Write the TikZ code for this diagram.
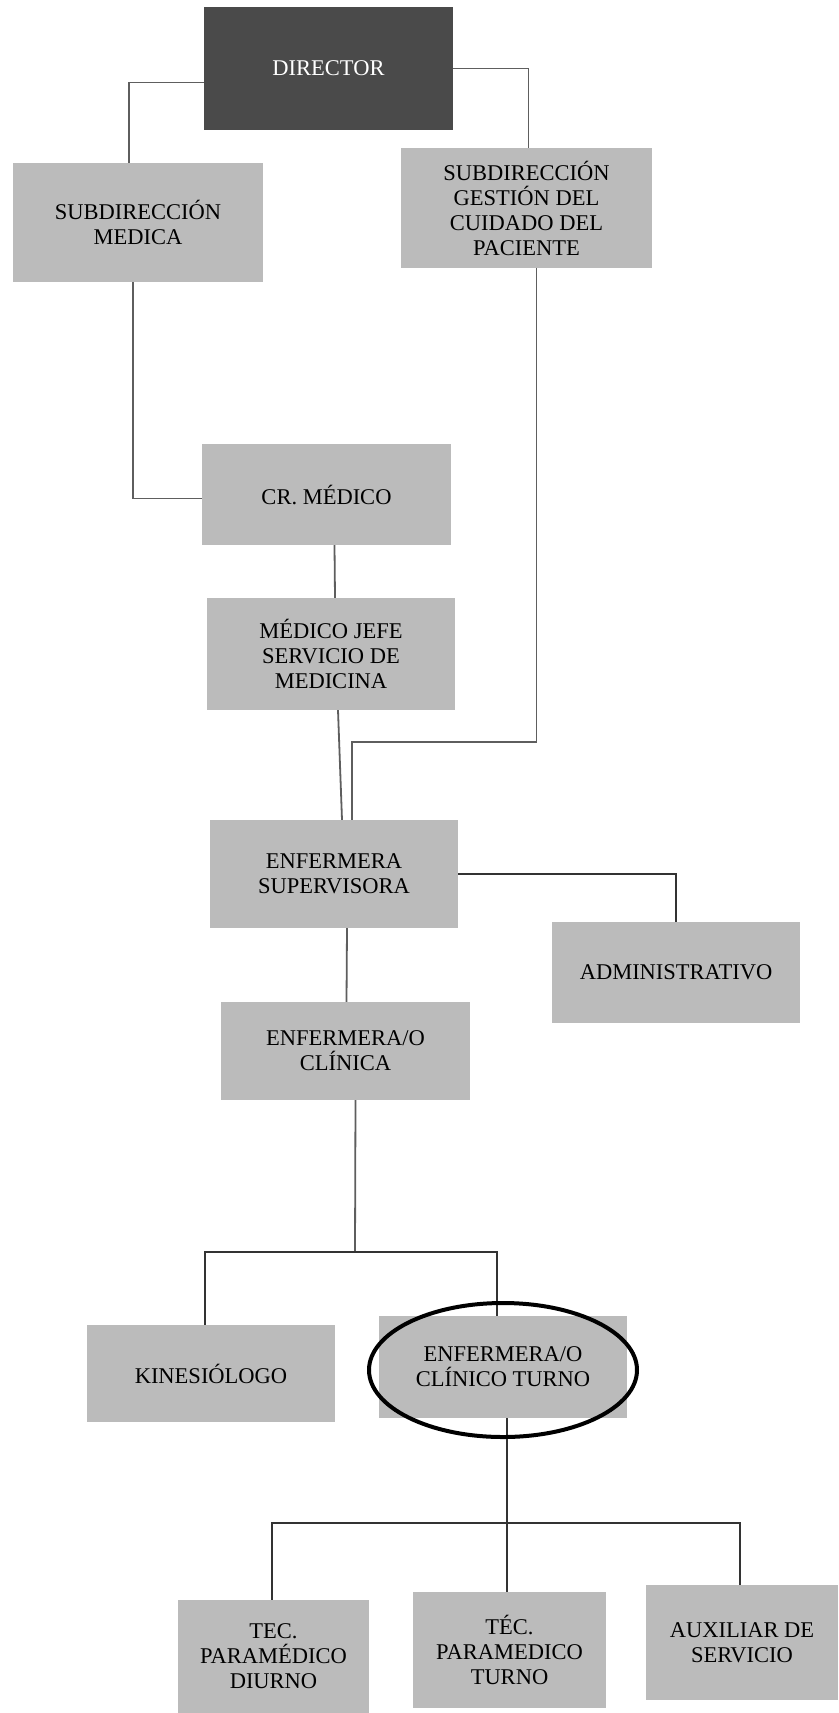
\documentclass[tikz,border=0pt]{standalone}
\usepackage{fontspec}
\setmainfont{Liberation Serif}
\usepackage{tikz}
\definecolor{grisnodo}{HTML}{BBBBBB}
\definecolor{grisdir}{HTML}{4A4A4A}
\definecolor{grislinea}{HTML}{5E5E5E}
\tikzset{
    unidad/.style={fill=grisnodo, inner sep=0pt, align=center, font=\fontsize{22.5}{25}\selectfont},
    linea/.style={grislinea, line width=1.8pt},
    lineaosc/.style={black!80, line width=2.6pt}
}

\begin{document}
\begin{tikzpicture}[x=1pt,y=-1pt]
            \useasboundingbox (0,0) rectangle (838,1713);
            % cajas
            \node[unidad, fill=grisdir, text=white, minimum width=249pt, minimum height=123pt] (dir) at (328.5,68.5){DIRECTOR};
            \node[unidad, minimum width=250pt, minimum height=119pt] (submed) at (138,222.5){SUBDIRECCIÓN\\MEDICA};
            \node[unidad, minimum width=251pt, minimum height=120pt] (subgest) at (526.5,208){SUBDIRECCIÓN\\GESTIÓN DEL\\CUIDADO DEL\\PACIENTE};
            \node[unidad, minimum width=249pt, minimum height=101pt] (crmed) at (326.5,494.5){CR. MÉDICO};
            \node[unidad, minimum width=248pt, minimum height=112pt] (jefe) at (331,654){MÉDICO JEFE\\SERVICIO DE\\MEDICINA};
            \node[unidad, minimum width=248pt, minimum height=108pt] (superv) at (334,874){ENFERMERA\\SUPERVISORA};
            \node[unidad, minimum width=248pt, minimum height=101pt] (admin) at (676,972.5){ADMINISTRATIVO};
            \node[unidad, minimum width=249pt, minimum height=98pt] (clinica) at (345.5,1051){ENFERMERA/O\\CLÍNICA};
            \node[unidad, minimum width=248pt, minimum height=97pt] (kine) at (211,1373.5){KINESIÓLOGO};
            \node[unidad, minimum width=248pt, minimum height=102pt] (turno) at (503,1367){ENFERMERA/O\\CLÍNICO TURNO};
            \node[unidad, minimum width=191pt, minimum height=113pt] (diurno) at (273.5,1656.5){TEC.\\PARAMÉDICO\\DIURNO};
            \node[unidad, minimum width=193pt, minimum height=116pt] (tecturno) at (509.5,1650){TÉC.\\PARAMEDICO\\TURNO};
            \node[unidad, minimum width=192pt, minimum height=115pt] (aux) at (742,1642.5){AUXILIAR DE\\SERVICIO};
            % lineas
            \coordinate (codo) at (352,742);
            \coordinate (barra1) at (355,1252);
            \coordinate (barra2) at (507,1523);
            \draw[linea] ([yshift=-14pt]dir.west) -| ([xshift=-9pt]submed.north);
            \draw[linea] (dir.east) -| ([xshift=2pt]subgest.north);
            \draw[linea] ([xshift=-5pt]submed.south) |- ([yshift=-4pt]crmed.west);
            \draw[linea] ([xshift=8pt]crmed.south) -- ([xshift=4pt]jefe.north);
            \draw[linea] ([xshift=7pt]jefe.south) -- ([xshift=8pt]superv.north);
            \draw[linea] ([xshift=10pt]subgest.south) |- (codo) -- (codo |- superv.north);
            \draw[lineaosc] (superv.east) -| (admin.north);
            \draw[linea] ([xshift=13pt]superv.south) -- ([xshift=1pt]clinica.north);
            \draw[linea] ([xshift=10pt]clinica.south) -- (barra1);
            \draw[lineaosc] ([xshift=-6pt]kine.north) |- (barra1) -| ([xshift=-6pt]turno.north);
            \draw[lineaosc] ([xshift=4pt]turno.south) -- ([xshift=-2.5pt]tecturno.north);
            \draw[lineaosc] ([xshift=-1.5pt]diurno.north) |- (barra2) -| ([xshift=-2pt]aux.north);
            % marca
            \draw[black, line width=4pt] ([yshift=-3pt]turno.center) ellipse [x radius=134pt, y radius=67pt];
        \end{tikzpicture}
\end{document}
